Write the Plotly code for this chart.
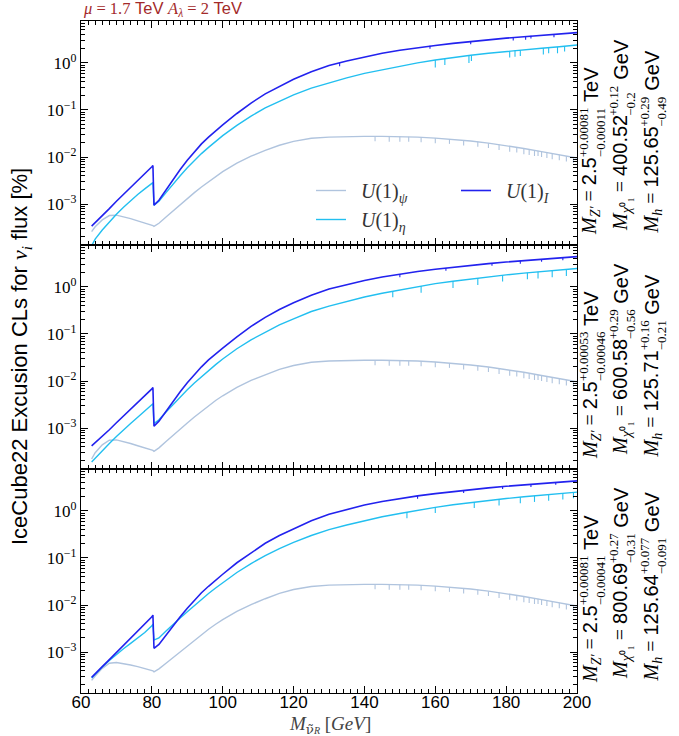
import plotly.graph_objects as go
from plotly.subplots import make_subplots

# ---------------- data ----------------
mass = [63, 64, 66, 68, 70, 72, 74, 76, 78, 80, 80.3, 80.6, 82, 84, 86, 88, 90, 92, 94, 96, 98, 100,
        104, 108, 112, 116, 120, 125, 130, 135, 140, 145, 150, 155, 160, 165, 170, 175, 180, 185, 190, 195, 200]

psi_p1 = [2.6e-4, 3.3e-4, 4.6e-4, 5.7e-4, 5.8e-4, 5.4e-4, 4.9e-4, 4.4e-4, 4.0e-4, 3.6e-4, 3.5e-4, 3.35e-4,
          3.9e-4, 5.3e-4, 7.2e-4, 9.6e-4, 1.3e-3, 1.75e-3, 2.3e-3, 3.0e-3, 3.9e-3, 4.9e-3,
          7.4e-3, 1.04e-2, 1.38e-2, 1.78e-2, 2.15e-2,
          2.5e-2, 2.65e-2, 2.72e-2, 2.75e-2, 2.75e-2, 2.72e-2, 2.65e-2, 2.52e-2, 2.37e-2, 2.18e-2, 1.97e-2,
          1.74e-2, 1.52e-2, 1.3e-2, 1.11e-2, 9.5e-3]
eta_p1 = [1.3e-4, 1.8e-4, 2.8e-4, 4.2e-4, 6.1e-4, 8.6e-4, 1.2e-3, 1.6e-3, 2.1e-3, 2.7e-3, 2.85e-3, 9.5e-4,
          1.15e-3, 1.75e-3, 2.7e-3, 4.0e-3, 5.9e-3, 8.5e-3, 1.18e-2, 1.6e-2, 2.15e-2, 2.85e-2,
          4.7e-2, 7.4e-2, 0.11, 0.155, 0.21,
          0.29, 0.38, 0.48, 0.6, 0.72, 0.85, 1.0, 1.15, 1.3, 1.45, 1.6, 1.75, 1.9, 2.05, 2.2, 2.4]
I_p1 = [3.4e-4, 4.0e-4, 5.6e-4, 8.0e-4, 1.15e-3, 1.6e-3, 2.2e-3, 3.1e-3, 4.4e-3, 6.2e-3, 6.6e-3, 9.5e-4,
        1.2e-3, 2.0e-3, 3.3e-3, 5.4e-3, 8.5e-3, 1.3e-2, 1.9e-2, 2.65e-2, 3.6e-2, 4.8e-2,
        8.4e-2, 0.14, 0.22, 0.32, 0.45,
        0.65, 0.88, 1.1, 1.35, 1.6, 1.85, 2.1, 2.35, 2.6, 2.85, 3.1, 3.35, 3.6, 3.85, 4.1, 4.4]

psi_p2 = [2.2e-4, 3.0e-4, 4.4e-4, 5.5e-4, 5.6e-4, 5.2e-4, 4.7e-4, 4.2e-4, 3.8e-4, 3.45e-4, 3.35e-4, 3.2e-4,
          3.8e-4, 5.2e-4, 7.1e-4, 9.5e-4, 1.28e-3, 1.72e-3, 2.28e-3, 2.98e-3, 3.85e-3, 4.85e-3,
          7.3e-3, 1.03e-2, 1.37e-2, 1.77e-2, 2.14e-2,
          2.5e-2, 2.66e-2, 2.73e-2, 2.76e-2, 2.76e-2, 2.73e-2, 2.66e-2, 2.53e-2, 2.38e-2, 2.19e-2, 1.98e-2,
          1.75e-2, 1.53e-2, 1.31e-2, 1.12e-2, 9.6e-3]
eta_p2 = [1.9e-4, 2.3e-4, 3.3e-4, 4.7e-4, 6.6e-4, 9.2e-4, 1.25e-3, 1.7e-3, 2.3e-3, 3.1e-3, 3.3e-3, 1.25e-3,
          1.5e-3, 2.2e-3, 3.2e-3, 4.6e-3, 6.5e-3, 9.1e-3, 1.24e-2, 1.68e-2, 2.23e-2, 2.93e-2,
          4.85e-2, 7.5e-2, 0.11, 0.155, 0.21,
          0.3, 0.39, 0.49, 0.61, 0.73, 0.86, 1.01, 1.17, 1.32, 1.48, 1.64, 1.8, 1.96, 2.12, 2.28, 2.45]
I_p2 = [4.2e-4, 4.9e-4, 6.6e-4, 9.2e-4, 1.3e-3, 1.8e-3, 2.5e-3, 3.4e-3, 4.8e-3, 6.8e-3, 7.3e-3, 1.1e-3,
        1.4e-3, 2.3e-3, 3.7e-3, 5.9e-3, 9.2e-3, 1.38e-2, 2.0e-2, 2.8e-2, 3.8e-2, 5.0e-2,
        8.7e-2, 0.145, 0.225, 0.33, 0.46,
        0.66, 0.9, 1.12, 1.37, 1.62, 1.87, 2.12, 2.37, 2.62, 2.87, 3.12, 3.37, 3.62, 3.87, 4.12, 4.4]

psi_p3 = [2.5e-4, 3.1e-4, 4.5e-4, 5.8e-4, 6.0e-4, 5.7e-4, 5.3e-4, 4.9e-4, 4.5e-4, 4.1e-4, 4.0e-4, 3.8e-4,
          4.4e-4, 5.8e-4, 7.7e-4, 1.0e-3, 1.35e-3, 1.8e-3, 2.35e-3, 3.05e-3, 3.9e-3, 4.9e-3,
          7.3e-3, 1.02e-2, 1.36e-2, 1.76e-2, 2.13e-2,
          2.48e-2, 2.65e-2, 2.72e-2, 2.75e-2, 2.75e-2, 2.72e-2, 2.65e-2, 2.52e-2, 2.37e-2, 2.18e-2, 1.97e-2,
          1.74e-2, 1.52e-2, 1.3e-2, 1.11e-2, 9.5e-3]
eta_p3 = [2.8e-4, 3.4e-4, 4.8e-4, 6.6e-4, 8.9e-4, 1.18e-3, 1.53e-3, 2.0e-3, 2.6e-3, 3.6e-3, 3.9e-3, 1.8e-3,
          2.0e-3, 2.8e-3, 3.9e-3, 5.3e-3, 7.2e-3, 9.8e-3, 1.3e-2, 1.75e-2, 2.3e-2, 3.0e-2,
          4.9e-2, 7.6e-2, 0.112, 0.158, 0.215,
          0.3, 0.4, 0.5, 0.62, 0.75, 0.88, 1.03, 1.19, 1.35, 1.51, 1.67, 1.83, 1.99, 2.15, 2.32, 2.5]
I_p3 = [2.9e-4, 3.5e-4, 4.9e-4, 6.9e-4, 9.7e-4, 1.37e-3, 1.93e-3, 2.7e-3, 3.8e-3, 5.6e-3, 6.1e-3, 1.2e-3,
        1.45e-3, 2.3e-3, 3.6e-3, 5.6e-3, 8.5e-3, 1.27e-2, 1.82e-2, 2.5e-2, 3.4e-2, 4.5e-2,
        7.9e-2, 0.13, 0.205, 0.3, 0.42,
        0.62, 0.85, 1.08, 1.33, 1.58, 1.83, 2.08, 2.33, 2.58, 2.83, 3.08, 3.33, 3.58, 3.83, 4.08, 4.35]

# narrow downward spikes (x, value on curve, bottom of spike)
psi_dip_x = [143, 147, 150, 152.5, 156, 160, 164, 168, 172, 175, 178, 181, 183, 185, 186.5, 188, 189, 190,
             191.5, 193, 195, 197, 199]
psi_dip_top = [2.75e-2, 2.74e-2, 2.72e-2, 2.69e-2, 2.63e-2, 2.52e-2, 2.4e-2, 2.26e-2, 2.1e-2, 1.97e-2, 1.83e-2,
               1.7e-2, 1.61e-2, 1.52e-2, 1.45e-2, 1.39e-2, 1.35e-2, 1.3e-2, 1.24e-2, 1.18e-2, 1.11e-2, 1.05e-2, 9.8e-3]
psi_dip_bot = [2.15e-2, 2.1e-2, 2.1e-2, 2.1e-2, 2.05e-2, 1.95e-2, 1.9e-2, 1.75e-2, 1.65e-2, 1.55e-2, 1.4e-2,
               1.3e-2, 1.25e-2, 1.15e-2, 1.1e-2, 1.05e-2, 1.05e-2, 1.0e-2, 9.5e-3, 9.0e-3, 8.5e-3, 8.0e-3, 7.5e-3]

I_dip_x_p1 = [133, 158.5, 170, 182, 185.5, 187, 193.5]
I_dip_top_p1 = [1.0, 2.3, 2.85, 3.45, 3.65, 3.75, 4.0]
I_dip_bot_p1 = [0.85, 2.0, 2.5, 3.0, 3.1, 3.3, 3.5]
eta_dip_x_p1 = [160, 162.7, 169.5, 170.2, 181, 182.5, 184, 190.5, 192, 194.5, 196.5]
eta_dip_top_p1 = [1.15, 1.23, 1.44, 1.46, 1.78, 1.83, 1.87, 2.07, 2.11, 2.18, 2.26]
eta_dip_bot_p1 = [0.8, 0.9, 1.0, 1.1, 1.3, 1.35, 1.4, 1.5, 1.6, 1.6, 1.75]

I_dip_x_p2 = [150, 163, 176, 184, 190, 196]
I_dip_top_p2 = [1.87, 2.52, 3.17, 3.57, 3.87, 4.17]
I_dip_bot_p2 = [1.6, 2.2, 2.8, 3.1, 3.4, 3.7]
eta_dip_x_p2 = [148, 156, 165, 172, 179, 186, 189, 193, 197]
eta_dip_top_p2 = [0.8, 1.04, 1.32, 1.54, 1.77, 1.99, 2.09, 2.21, 2.35]
eta_dip_bot_p2 = [0.6, 0.75, 0.95, 1.1, 1.3, 1.45, 1.5, 1.6, 1.7]

I_dip_x_p3 = [155, 168, 179, 187, 194]
I_dip_top_p3 = [2.08, 2.73, 3.28, 3.68, 4.03]
I_dip_bot_p3 = [1.8, 2.4, 2.9, 3.2, 3.6]
eta_dip_x_p3 = [152, 160, 171, 178, 184, 188, 192, 196, 199]
eta_dip_top_p3 = [0.94, 1.19, 1.54, 1.77, 1.96, 2.08, 2.22, 2.35, 2.45]
eta_dip_bot_p3 = [0.7, 0.9, 1.15, 1.3, 1.45, 1.55, 1.65, 1.75, 1.85]

series_names = ["\u2002<i>U</i>(1)<sub><i>ψ</i></sub>", "\u2002<i>U</i>(1)<sub><i>η</i></sub>",
                "\u2002<i>U</i>(1)<sub><i>I</i></sub>"]

# right-hand labels per panel
z_val = ["2.5", "2.5", "2.5"]
z_up = ["+0.00081", "+0.00053", "+0.00081"]
z_dn = ["−0.00011", "−0.00046", "−0.00041"]
chi_val = ["400.52", "600.58", "800.69"]
chi_up = ["+0.12", "+0.29", "+0.27"]
chi_dn = ["−0.2", "−0.56", "−0.31"]
h_val = ["125.65", "125.71", "125.64"]
h_up = ["+0.29", "+0.16", "+0.077"]
h_dn = ["−0.49", "−0.21", "−0.091"]

x_ticks = [60, 80, 100, 120, 140, 160, 180, 200]
y_ticks = [1e-3, 1e-2, 1e-1, 1]
y_ticktext = ["10<sup>−3</sup>", "10<sup>−2</sup>", "10<sup>−1</sup>", "10<sup>0</sup>"]

# ---------------- figure ----------------
W, H = 679, 736
ML, MR, MT, MB = 81, 102, 21, 43
PW, PH = W - ML - MR, H - MT - MB
SANS = "Liberation Sans, Arial, sans-serif"
SERIF = "Liberation Serif, Times New Roman, serif"
C_PSI, C_ETA, C_I = "#b0c4de", "#22bff0", "#2222ee"

fig = make_subplots(rows=3, cols=1, shared_xaxes=True, vertical_spacing=0)

panels = [
    (psi_p1, eta_p1, I_p1, I_dip_x_p1, I_dip_top_p1, I_dip_bot_p1, eta_dip_x_p1, eta_dip_top_p1, eta_dip_bot_p1),
    (psi_p2, eta_p2, I_p2, I_dip_x_p2, I_dip_top_p2, I_dip_bot_p2, eta_dip_x_p2, eta_dip_top_p2, eta_dip_bot_p2),
    (psi_p3, eta_p3, I_p3, I_dip_x_p3, I_dip_top_p3, I_dip_bot_p3, eta_dip_x_p3, eta_dip_top_p3, eta_dip_bot_p3),
]


def spikes(xs, tops, bots):
    sx, sy = [], []
    for a, t, b in zip(xs, tops, bots):
        sx += [a, a, None]
        sy += [t, b, None]
    return sx, sy


for r, (psi, eta, ii, idx, idt, idb, edx, edt, edb) in enumerate(panels, start=1):
    first = r == 1
    fig.add_trace(go.Scatter(x=mass, y=psi, mode="lines", line=dict(color=C_PSI, width=1.4),
                             name=series_names[0], showlegend=first, legend="legend", legendrank=1), row=r, col=1)
    sx, sy = spikes(psi_dip_x, psi_dip_top, psi_dip_bot)
    fig.add_trace(go.Scatter(x=sx, y=sy, mode="lines", line=dict(color=C_PSI, width=1.1),
                             showlegend=False, hoverinfo="skip"), row=r, col=1)
    fig.add_trace(go.Scatter(x=mass, y=eta, mode="lines", line=dict(color=C_ETA, width=1.4),
                             name=series_names[1], showlegend=first, legend="legend", legendrank=2), row=r, col=1)
    sx, sy = spikes(edx, edt, edb)
    fig.add_trace(go.Scatter(x=sx, y=sy, mode="lines", line=dict(color=C_ETA, width=1.1),
                             showlegend=False, hoverinfo="skip"), row=r, col=1)
    fig.add_trace(go.Scatter(x=mass, y=ii, mode="lines", line=dict(color=C_I, width=1.6),
                             name=series_names[2], showlegend=first, legend="legend2", legendrank=3), row=r, col=1)
    sx, sy = spikes(idx, idt, idb)
    fig.add_trace(go.Scatter(x=sx, y=sy, mode="lines", line=dict(color=C_I, width=1.1),
                             showlegend=False, hoverinfo="skip"), row=r, col=1)

minor_y = [m * 10 ** k for k in range(-4, 1) for m in [2, 3, 4, 5, 6, 7, 8, 9]]

for r in range(1, 4):
    fig.update_xaxes(range=[60, 200], tickvals=x_ticks, ticks="inside", ticklen=7, tickwidth=1,
                     tickcolor="black", showline=True, linecolor="black", linewidth=1.3, mirror="allticks",
                     showgrid=False, zeroline=False, showticklabels=(r == 3), ticklabelstandoff=-7,
                     tickfont=dict(family=SANS, size=17, color="black"),
                     minor=dict(ticks="inside", ticklen=3.5, tick0=60, dtick=2, tickcolor="black", showgrid=False),
                     row=r, col=1)
    fig.update_yaxes(type="log", range=[-3.87, 0.89], tickvals=y_ticks, ticktext=y_ticktext,
                     ticks="inside", ticklen=7, tickwidth=1, tickcolor="black", showline=True,
                     linecolor="black", linewidth=1.3, mirror="allticks", showgrid=False, zeroline=False,
                     tickfont=dict(family=SERIF, size=17, color="black"),
                     minor=dict(ticks="inside", ticklen=3.5, tickvals=minor_y, tickcolor="black", showgrid=False),
                     row=r, col=1)


def px(xp):
    return (xp - ML) / PW


def py(yp):
    return (H - MB - yp) / PH


# approximate advance widths (em) for chaining rotated text pieces
CW = {"0": .556, "1": .556, "2": .556, "3": .556, "4": .556, "5": .556, "6": .556, "7": .556, "8": .556,
      "9": .556, ".": .278, "+": .584, "−": .584, " ": .278, "T": .611, "e": .556, "V": .667, "G": .778}


def tw(s, size, k=1.0):
    return sum(CW.get(c, .55) for c in s) * size * k


ann = []
MAIN, SMALL = 20, 13
cols = [
    (591, 237, '<span style="font-family:%s"><i>M</i><sub><i>Z′</i></sub> = </span>' % SERIF, 50, z_val, z_up, z_dn, " TeV"),
    (621, 233, '<span style="font-family:%s"><i>M</i><sub><i>χ</i>⁰₁</sub> = </span>' % SERIF, 54, chi_val, chi_up, chi_dn, " GeV"),
    (652, 236, '<span style="font-family:%s"><i>M</i><sub><i>h</i></sub> = </span>' % SERIF, 46, h_val, h_up, h_dn, " GeV"),
]
for p in range(3):
    for (cx, ybase, pre, prelen, vals, ups, dns, unit) in cols:
        y0 = ybase + p * 224
        L1 = prelen + tw(vals[p], MAIN)
        ann.append(dict(x=px(cx), y=py(y0), xref="paper", yref="paper", text=pre + vals[p],
                        textangle=-90, xanchor="center", yanchor="bottom", showarrow=False,
                        font=dict(family=SANS, size=MAIN, color="black")))
        L2 = max(tw(ups[p], SMALL, 0.9), tw(dns[p], SMALL, 0.9))
        ann.append(dict(x=px(cx + 1), y=py(y0 - L1), xref="paper", yref="paper",
                        text=ups[p] + "<br>" + dns[p], align="left",
                        textangle=-90, xanchor="center", yanchor="bottom", showarrow=False,
                        font=dict(family=SERIF, size=SMALL, color="black")))
        ann.append(dict(x=px(cx), y=py(y0 - L1 - L2 - 1), xref="paper", yref="paper", text=unit,
                        textangle=-90, xanchor="center", yanchor="bottom", showarrow=False,
                        font=dict(family=SANS, size=MAIN, color="black")))

# y axis title
ann.append(dict(x=px(21), y=0.5, xref="paper", yref="paper",
                text='IceCube22 Excusion CLs for <span style="font-family:%s"><i>ν<sub>i</sub></i></span> flux [%%]' % SERIF,
                textangle=-90, xanchor="center", yanchor="middle", showarrow=False,
                font=dict(family=SANS, size=22, color="black")))
# x axis title
ann.append(dict(x=px(330), y=py(725), xref="paper", yref="paper",
                text="<i>M</i><sub><span style='font-family:DejaVu Serif'>ν̃</span><span style='font-size:10px'><i>R</i></span></sub> [<i>GeV</i>]",
                xanchor="center", yanchor="middle", showarrow=False,
                font=dict(family=SERIF, size=19, color="#444444")))
# top label
ann.append(dict(x=0.0, y=py(21), xref="paper", yref="paper",
                text='<span style="font-family:%s"><i>μ</i> = 1.7</span> TeV <span style="font-family:%s"><i>A<sub>λ</sub></i> = 2</span> TeV' % (SERIF, SERIF),
                xanchor="left", yanchor="bottom", showarrow=False,
                font=dict(family=SANS, size=16.5, color="#a32a2a")))

fig.update_layout(
    width=W, height=H, margin=dict(l=ML, r=MR, t=MT, b=MB),
    paper_bgcolor="white", plot_bgcolor="white",
    annotations=ann,
    legend=dict(x=px(311), y=py(171), xanchor="left", yanchor="top", orientation="v",
                bgcolor="rgba(0,0,0,0)", font=dict(family=SERIF, size=20, color="#333333"),
                itemwidth=30, tracegroupgap=0),
    legend2=dict(x=px(456), y=py(171), xanchor="left", yanchor="top", orientation="v",
                 bgcolor="rgba(0,0,0,0)", font=dict(family=SERIF, size=20, color="#333333"),
                 itemwidth=30),
    showlegend=True,
)

fig.write_html("out.html")
